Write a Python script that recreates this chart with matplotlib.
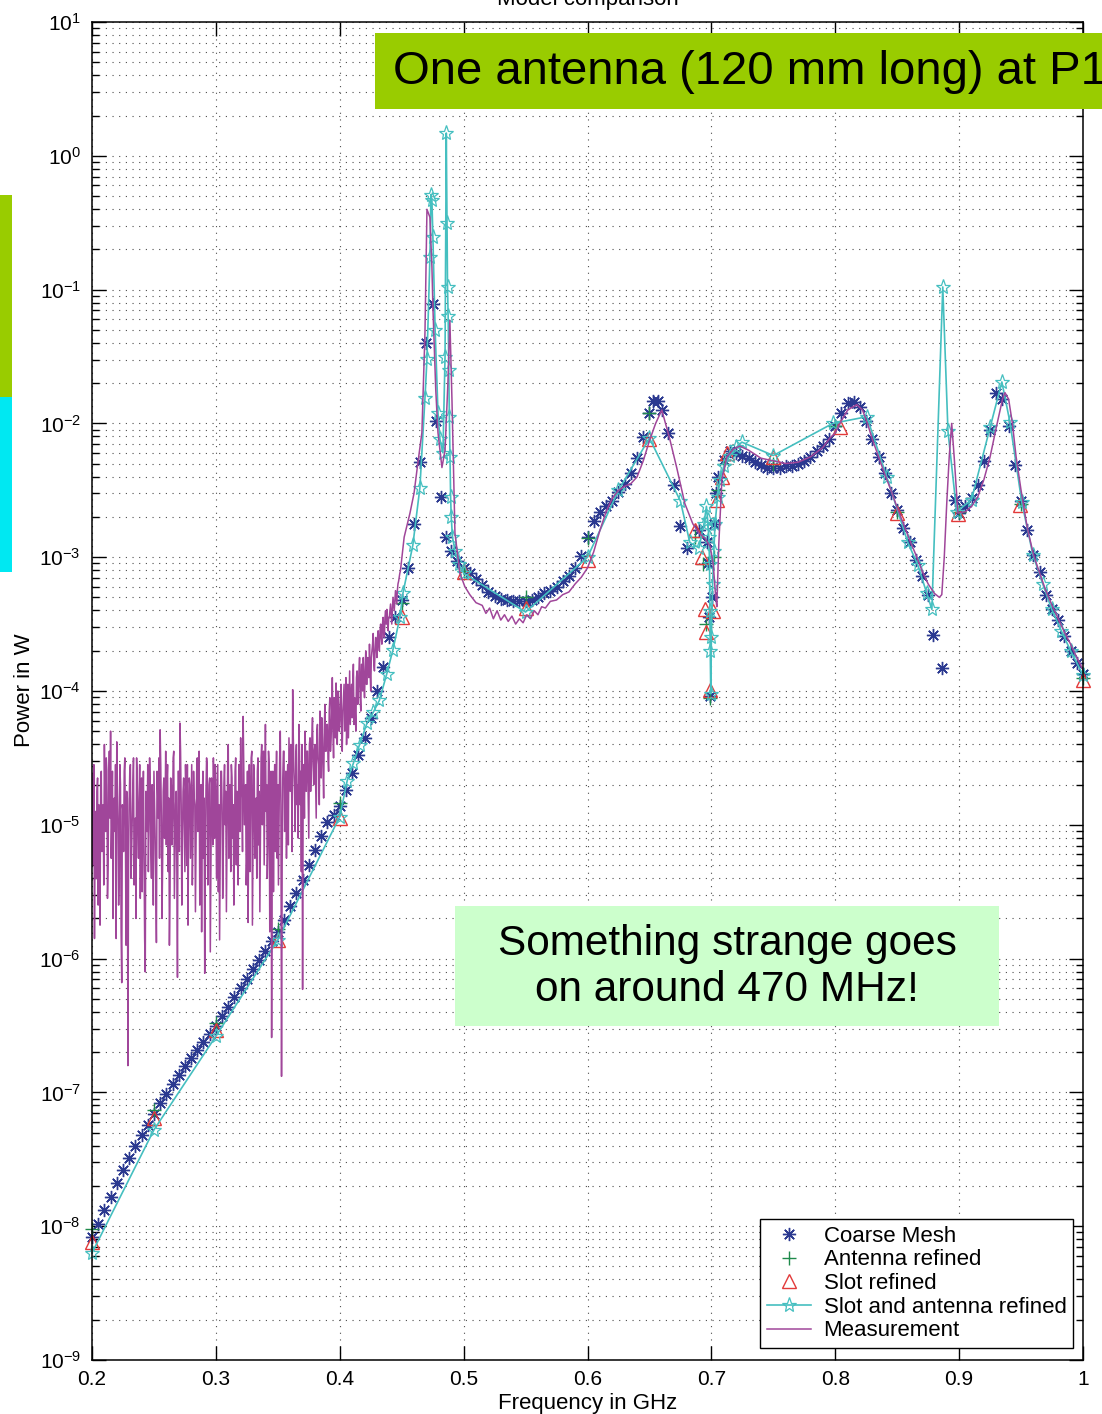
import numpy as np
import matplotlib
matplotlib.use("Agg")
import matplotlib.pyplot as plt
from matplotlib.patches import Rectangle

plt.rcParams['font.family'] = ['Liberation Sans', 'DejaVu Sans']
plt.rcParams['mathtext.fontset'] = 'custom'
plt.rcParams['mathtext.rm'] = 'Liberation Sans'

# ---- data (frequency in GHz, log10 of power in W) ----
coarse_f = [0.200, 0.205, 0.210, 0.215, 0.220, 0.225, 0.230, 0.235, 0.240, 0.245,
            0.250, 0.255, 0.260, 0.265, 0.270, 0.275, 0.280, 0.285, 0.290, 0.295,
            0.300, 0.305, 0.310, 0.315, 0.320, 0.325, 0.330, 0.335, 0.340, 0.345,
            0.350, 0.355, 0.360, 0.365, 0.370, 0.375, 0.380, 0.385, 0.390, 0.395,
            0.400, 0.405, 0.410, 0.415, 0.420, 0.425, 0.430, 0.435, 0.440, 0.445,
            0.450, 0.455, 0.460, 0.465, 0.470, 0.475, 0.478, 0.482, 0.486, 0.490,
            0.495, 0.500, 0.505, 0.510, 0.515, 0.520, 0.525, 0.530, 0.535, 0.540,
            0.545, 0.550, 0.555, 0.560, 0.565, 0.570, 0.575, 0.580, 0.585, 0.590,
            0.595, 0.600, 0.605, 0.610, 0.615, 0.620, 0.625, 0.630, 0.635, 0.640,
            0.645, 0.650, 0.653, 0.657, 0.660, 0.665, 0.670, 0.675, 0.680, 0.690,
            0.6964, 0.6975, 0.698, 0.6988, 0.7005, 0.702, 0.704, 0.705, 0.710, 0.715,
            0.720, 0.725, 0.730, 0.735, 0.740, 0.745, 0.750, 0.755, 0.760, 0.765,
            0.770, 0.775, 0.780, 0.785, 0.790, 0.795, 0.800, 0.805, 0.810, 0.815,
            0.820, 0.825, 0.830, 0.835, 0.840, 0.845, 0.850, 0.855, 0.860, 0.865,
            0.870, 0.875, 0.879, 0.886, 0.8965, 0.900, 0.905, 0.910, 0.915, 0.920,
            0.925, 0.930, 0.935, 0.940, 0.945, 0.950, 0.955, 0.960, 0.965, 0.970,
            0.975, 0.980, 0.985, 0.990, 0.995, 1.000]
coarse_lg = [-8.08, -7.98, -7.88, -7.78, -7.68, -7.58, -7.49, -7.40, -7.32, -7.24,
             -7.16, -7.08, -7.01, -6.94, -6.87, -6.80, -6.74, -6.68, -6.62, -6.56,
             -6.50, -6.43, -6.36, -6.29, -6.22, -6.15, -6.08, -6.01, -5.94, -5.87,
             -5.80, -5.71, -5.61, -5.51, -5.41, -5.30, -5.19, -5.08, -4.98, -4.93,
             -4.86, -4.74, -4.61, -4.48, -4.35, -4.20, -4.00, -3.82, -3.60, -3.45,
             -3.32, -3.08, -2.75, -2.29, -1.40, -1.11, -1.98, -2.55, -2.85, -2.95,
             -3.03, -3.08, -3.12, -3.16, -3.21, -3.26, -3.29, -3.31, -3.32, -3.33,
             -3.33, -3.33, -3.32, -3.30, -3.27, -3.25, -3.22, -3.18, -3.14, -3.08,
             -2.99, -2.85, -2.73, -2.66, -2.62, -2.58, -2.51, -2.45, -2.37, -2.26,
             -2.10, -1.92, -1.83, -1.83, -1.90, -2.07, -2.46, -2.77, -2.93, -2.80,
             -2.89, -3.04, -3.45, -4.04, -3.30, -2.75, -2.52, -2.40, -2.27, -2.21,
             -2.22, -2.24, -2.26, -2.29, -2.31, -2.33, -2.33, -2.33, -2.32, -2.32,
             -2.30, -2.28, -2.25, -2.21, -2.17, -2.12, -2.02, -1.92, -1.85, -1.84,
             -1.88, -1.98, -2.12, -2.25, -2.37, -2.52, -2.65, -2.78, -2.89, -3.02,
             -3.14, -3.28, -3.58, -3.83, -2.57, -2.67, -2.62, -2.56, -2.46, -2.28,
             -2.05, -1.77, -1.82, -2.02, -2.31, -2.58, -2.80, -2.98, -3.11, -3.28,
             -3.39, -3.47, -3.59, -3.70, -3.79, -3.87]

antenna_f = [0.200, 0.250, 0.300, 0.350, 0.400, 0.450, 0.500, 0.550, 0.600, 0.650,
             0.6867, 0.693, 0.696, 0.6988, 0.702, 0.705, 0.710, 0.750, 0.800, 0.850,
             0.900, 0.950, 1.000]
antenna_lg = [-8.02, -7.13, -6.48, -5.78, -4.84, -3.34, -3.10, -3.30, -2.86, -1.92,
              -2.85, -3.05, -3.50, -4.05, -3.00, -2.50, -2.30, -2.30, -2.02, -2.66,
              -2.66, -2.60, -3.90]

slot_f = [0.200, 0.250, 0.300, 0.350, 0.400, 0.450, 0.500, 0.550, 0.600, 0.650,
          0.6867, 0.6923, 0.6945, 0.696, 0.6988, 0.7015, 0.7044, 0.7085, 0.7125,
          0.750, 0.804, 0.850, 0.899, 0.949, 1.000]
slot_lg = [-8.12, -7.19, -6.53, -5.86, -4.95, -3.45, -3.11, -3.38, -3.02, -2.12,
           -2.80, -3.00, -3.39, -3.56, -3.99, -3.40, -2.57, -2.40, -2.22,
           -2.25, -2.03, -2.67, -2.68, -2.61, -3.92]

both_f = [0.200, 0.250, 0.300, 0.350, 0.400, 0.406, 0.411, 0.416, 0.422, 0.427,
          0.432, 0.438, 0.443, 0.4485, 0.451, 0.459, 0.4647, 0.4688, 0.4704, 0.4728,
          0.4736, 0.4744, 0.4752, 0.4770, 0.4793, 0.4809, 0.4833, 0.4850, 0.4860, 0.4866,
          0.4870, 0.4875, 0.4880, 0.4885, 0.4890, 0.4895, 0.4900, 0.4910, 0.4930, 0.4960,
          0.5000, 0.550, 0.600, 0.625, 0.650, 0.675, 0.6826, 0.690, 0.694, 0.696,
          0.697, 0.698, 0.6985, 0.6988, 0.6991, 0.6995, 0.7000, 0.7010, 0.7020, 0.7030,
          0.705, 0.707, 0.710, 0.715, 0.720, 0.7246, 0.750, 0.798, 0.8255, 0.8416,
          0.8586, 0.8667, 0.8739, 0.878, 0.8868, 0.891, 0.898, 0.910, 0.925, 0.9345,
          0.941, 0.9506, 0.9595, 0.9675, 0.9748, 0.9825, 0.990, 1.000]
both_lg = [-8.20, -7.28, -6.58, -5.86, -4.94, -4.67, -4.54, -4.40, -4.24, -4.16,
           -4.07, -3.87, -3.69, -3.45, -3.27, -2.91, -2.48, -1.81, -1.52, -0.76,
           -0.29, -0.33, -0.61, -1.30, -1.92, -2.12, -2.22, -1.50, 0.17, -0.50,
           -0.98, -1.20, -1.60, -1.95, -2.25, -2.55, -2.70, -2.85, -2.95, -3.05,
           -3.12, -3.41, -3.00, -2.50, -2.11, -2.58, -2.89, -2.93, -2.75, -2.62,
           -2.72, -2.85, -3.05, -3.40, -3.70, -4.02, -3.60, -3.20, -2.95, -2.75,
           -2.55, -2.42, -2.32, -2.24, -2.18, -2.14, -2.24, -2.00, -1.95, -2.40,
           -2.89, -3.06, -3.27, -3.39, -0.98, -2.06, -2.66, -2.57, -2.03, -1.69,
           -1.99, -2.59, -2.98, -3.20, -3.39, -3.55, -3.70, -3.88]

# measurement, noisy part: samples on whole MHz (0.200 ... 0.449 GHz)
meas_noise_lg = [
    -4.62, -5.10, -5.85, -4.90, -4.75, -5.60, -4.95, -4.70, -5.20, -4.85,
    -4.40, -5.05, -4.60, -5.30, -4.45, -4.30, -5.00, -5.70, -4.80, -4.55,
    -4.38, -4.95, -5.35, -4.70, -6.18, -4.90, -4.60, -5.10, -4.75, -6.80,
    -4.85, -4.55, -5.20, -4.70, -5.45, -4.95, -4.50, -5.05, -4.80, -5.55,
    -4.65, -4.90, -5.25, -6.10, -4.80, -4.55, -5.00, -4.70, -5.40, -4.85,
    -4.60, -5.10, -5.88, -4.75, -4.50, -4.29, -4.95, -5.30, -4.65, -4.85,
    -5.15, -4.55, -4.80, -5.50, -4.70, -4.95, -4.45, -5.20, -4.75, -6.14,
    -4.60, -4.24, -4.85, -5.10, -4.65, -5.35, -4.80, -4.55, -5.05, -4.70,
    -4.90, -5.45, -4.60, -4.85, -5.15, -4.50, -4.95, -5.60, -4.70, -4.85,
    -5.25, -6.11, -4.75, -4.55, -5.00, -4.65, -5.30, -4.80, -4.50, -5.10,
    -4.70, -4.95, -5.50, -5.86, -4.60, -4.85, -5.20, -4.55, -4.75, -5.05,
    -4.40, -4.90, -5.35, -4.65, -4.85, -5.15, -4.50, -4.75, -5.45, -4.60,
    -4.35, -4.80, -4.19, -5.00, -4.70, -5.25, -5.73, -4.55, -4.85, -4.45,
    -5.10, -4.65, -4.90, -5.40, -4.50, -4.75, -5.05, -4.40, -4.85, -5.30,
    -4.25, -4.70, -5.15, -4.55, -4.95, -6.59, -4.60, -4.80, -5.20, -4.45,
    -4.70, -5.00, -4.30, -6.88, -4.65, -4.45, -4.90, -5.25, -4.55, -4.35,
    -4.75, -4.50, -3.99, -4.60, -5.05, -4.40, -4.70, -4.25, -4.85, -5.35,
    -6.23, -4.55, -4.30, -4.75, -4.45, -5.10, -4.35, -4.60, -4.20, -4.70,
    -4.40, -4.95, -4.25, -4.55, -4.15, -4.65, -4.35, -4.80, -4.10, -4.45,
    -4.25, -4.60, -4.05, -4.35, -3.90, -4.50, -4.15, -3.94, -4.40, -4.10,
    -4.25, -3.95, -4.45, -4.05, -4.30, -3.90, -4.15, -4.35, -3.85, -4.10,
    -4.20, -3.80, -4.05, -4.30, -3.85, -4.00, -3.75, -4.15, -3.90, -3.75,
    -4.05, -3.70, -3.95, -3.80, -3.65, -4.00, -3.70, -3.57, -3.85, -3.60,
    -3.75, -3.55, -3.70, -3.50, -3.65, -3.45, -3.60, -3.40, -3.39, -3.55,
    -3.45, -3.35, -3.50, -3.30, -3.40, -3.25, -3.35, -3.20, -3.15, -3.10]
meas_noise_f = np.round(0.200 + 0.001 * np.arange(len(meas_noise_lg)), 4)

# measurement, noisy part: samples in between (0.2005 ... 0.4485 GHz)
meas_half_lg = [
    -5.30, -4.55, -5.00, -5.40, -4.65, -4.85, -5.75, -4.60, -4.95, -5.45,
    -4.85, -4.50, -5.55, -4.70, -4.95, -5.25, -4.60, -4.90, -5.05, -5.85,
    -4.70, -5.60, -4.55, -5.80, -4.85, -5.20, -4.50, -5.90, -4.80, -5.30,
    -4.60, -5.40, -4.95, -4.50, -5.15, -5.70, -4.65, -5.25, -4.55, -4.90,
    -5.50, -4.60, -5.85, -4.75, -5.05, -5.35, -4.50, -5.20, -4.70, -5.60,
    -4.85, -5.45, -4.60, -4.95, -5.25, -4.55, -5.70, -4.75, -5.10, -4.45,
    -4.70, -5.35, -5.90, -4.65, -5.15, -4.50, -5.55, -4.85, -5.35, -4.60,
    -5.20, -4.45, -5.60, -4.75, -5.00, -4.55, -5.30, -5.75, -4.65, -5.25,
    -4.55, -5.10, -4.80, -5.65, -4.60, -5.05, -4.45, -5.20, -5.80, -4.60,
    -4.80, -5.30, -4.50, -5.45, -4.70, -5.95, -4.65, -5.15, -4.85, -4.55,
    -5.40, -4.55, -4.85, -5.20, -4.60, -5.55, -4.70, -5.00, -5.65, -4.55,
    -5.25, -4.70, -4.55, -5.10, -5.60, -4.60, -5.30, -4.85, -4.55, -5.05,
    -4.70, -5.20, -4.55, -4.85, -5.45, -4.60, -5.00, -5.35, -4.50, -5.75,
    -4.55, -5.25, -4.80, -4.60, -5.15, -5.65, -4.50, -5.00, -4.45, -4.80,
    -4.90, -5.40, -4.45, -5.80, -4.60, -5.10, -5.50, -4.55, -4.75, -5.25,
    -5.45, -4.50, -4.85, -5.30, -4.45, -5.05, -4.60, -4.70, -5.15, -4.55,
    -4.40, -5.20, -4.35, -4.75, -4.50, -4.85, -5.10, -4.45, -4.60, -4.40,
    -4.60, -4.95, -4.50, -4.45, -4.80, -4.40, -4.75, -4.35, -4.55, -4.45,
    -4.70, -4.30, -4.50, -4.85, -4.35, -4.20, -4.60, -4.30, -4.45, -4.25,
    -4.50, -4.15, -4.45, -4.20, -4.30, -4.05, -4.35, -4.20, -4.00, -4.30,
    -4.05, -4.30, -4.15, -3.95, -4.20, -4.40, -3.95, -4.10, -4.25, -3.95,
    -3.95, -4.25, -4.15, -3.90, -4.10, -3.85, -4.05, -3.80, -4.00, -3.95,
    -3.85, -3.95, -3.75, -3.90, -3.85, -3.75, -3.65, -3.80, -3.70, -3.65,
    -3.60, -3.65, -3.55, -3.60, -3.50, -3.55, -3.45, -3.50, -3.48, -3.45,
    -3.40, -3.42, -3.38, -3.35, -3.32, -3.30, -3.25, -3.18, -3.12]
meas_half_f = np.round(0.2005 + 0.001 * np.arange(len(meas_half_lg)), 4)

# measurement, smooth part
meas_f = [0.452, 0.4567, 0.460, 0.463, 0.4663, 0.4688, 0.4704, 0.4728, 0.4744, 0.4752,
          0.4775, 0.4793, 0.4825, 0.4850, 0.4873, 0.4889, 0.4906, 0.4930, 0.4970, 0.5010,
          0.5050, 0.5100, 0.515, 0.518, 0.521, 0.524, 0.527, 0.530, 0.533, 0.536,
          0.539, 0.542, 0.545, 0.548, 0.551, 0.554, 0.557, 0.560, 0.563, 0.566,
          0.570, 0.575, 0.580, 0.585, 0.590, 0.595, 0.600, 0.605, 0.610, 0.615,
          0.620, 0.625, 0.630, 0.635, 0.640, 0.645, 0.650, 0.655, 0.660, 0.6665,
          0.672, 0.6786, 0.685, 0.690, 0.695, 0.699, 0.7015, 0.7035, 0.7044, 0.706,
          0.7085, 0.7125, 0.718, 0.723, 0.730, 0.740, 0.750, 0.760, 0.770, 0.780,
          0.790, 0.7956, 0.800, 0.805, 0.810, 0.8174, 0.822, 0.826, 0.830, 0.835,
          0.840, 0.845, 0.850, 0.855, 0.860, 0.865, 0.870, 0.875, 0.880, 0.884,
          0.886, 0.888, 0.890, 0.892, 0.894, 0.896, 0.899, 0.905, 0.910, 0.915,
          0.920, 0.925, 0.930, 0.935, 0.937, 0.940, 0.943, 0.946, 0.950, 0.955,
          0.960, 0.965, 0.970, 0.975, 0.980, 0.985, 0.990, 0.995, 1.000]
meas_lg = [-2.85, -2.67, -2.52, -2.30, -2.07, -1.32, -0.40, -0.46, -0.83, -1.13,
           -1.75, -2.07, -2.33, -2.20, -1.70, -1.23, -1.83, -2.82, -3.12, -3.22,
           -3.28, -3.34, -3.36, -3.42, -3.38, -3.46, -3.40, -3.47, -3.43, -3.48,
           -3.44, -3.50, -3.46, -3.49, -3.43, -3.46, -3.40, -3.43, -3.37, -3.38,
           -3.33, -3.32, -3.28, -3.26, -3.20, -3.15, -3.08, -2.96, -2.80, -2.66,
           -2.56, -2.50, -2.47, -2.45, -2.40, -2.28, -2.13, -2.00, -1.90, -2.12,
           -2.33, -2.60, -2.75, -2.82, -2.86, -2.92, -3.05, -3.30, -3.37, -2.90,
           -2.42, -2.25, -2.19, -2.17, -2.20, -2.26, -2.28, -2.30, -2.29, -2.25,
           -2.18, -2.11, -2.07, -1.98, -1.90, -1.86, -1.90, -2.00, -2.12, -2.25,
           -2.38, -2.50, -2.63, -2.75, -2.87, -2.98, -3.10, -3.20, -3.27, -3.30,
           -3.28, -3.00, -2.60, -2.25, -2.00, -2.25, -2.67, -2.66, -2.62, -2.55,
           -2.42, -2.25, -2.03, -1.82, -1.77, -1.82, -2.00, -2.25, -2.50, -2.78,
           -2.98, -3.12, -3.25, -3.36, -3.46, -3.56, -3.65, -3.75, -3.84]

all_meas_f = np.concatenate([meas_noise_f, meas_half_f, meas_f])
all_meas_lg = np.concatenate([meas_noise_lg, meas_half_lg, meas_lg])
order = np.argsort(all_meas_f, kind='stable')
all_meas_f = all_meas_f[order]
all_meas_lg = all_meas_lg[order]

# ---- figure ----
fig = plt.figure(figsize=(11.02, 14.14), dpi=100)
ax = fig.add_axes([92 / 1102, 1 - 1360 / 1414, 991 / 1102, 1338 / 1414])

ax.plot(coarse_f, np.power(10.0, coarse_lg), ls='none', marker=(8, 2, 0), ms=9.5,
        mew=1.0, color='#2b3990', label='Coarse Mesh', clip_on=False)
ax.plot(antenna_f, np.power(10.0, antenna_lg), ls='none', marker='+', ms=9.5,
        mew=1.0, color='#1f8a4c', label='Antenna refined', clip_on=False)
ax.plot(slot_f, np.power(10.0, slot_lg), ls='none', marker='^', ms=9.5, mfc='none',
        mew=1.0, color='#e23a3a', label='Slot refined', clip_on=False)
ax.plot(both_f, np.power(10.0, both_lg), '-', marker='*', ms=11, mfc='none',
        mew=0.9, lw=1.2, color='#45bfc0', label='Slot and antenna refined', clip_on=False)
ax.plot(all_meas_f, np.power(10.0, all_meas_lg), '-', lw=1.1, color='#a0469a',
        label='Measurement')

ax.set_yscale('log')
ax.set_xlim(0.2, 1.0)
ax.set_ylim(1e-9, 1e1)
ax.set_xticks([0.2, 0.3, 0.4, 0.5, 0.6, 0.7, 0.8, 0.9, 1.0])
ax.set_xticklabels(['0.2', '0.3', '0.4', '0.5', '0.6', '0.7', '0.8', '0.9', '1'])
ax.set_yticks([10.0 ** k for k in range(-9, 2)])
ax.yaxis.set_minor_locator(matplotlib.ticker.LogLocator(base=10, subs=np.arange(2, 10), numticks=20))
ax.yaxis.set_minor_formatter(matplotlib.ticker.NullFormatter())

ax.tick_params(which='both', direction='in', top=True, right=True, labelsize=15)
ax.tick_params(which='major', length=10, width=1.0)
ax.tick_params(which='minor', length=5, width=1.0)
ax.tick_params(axis='x', pad=7)
ax.tick_params(axis='y', pad=8)
for s in ax.spines.values():
    s.set_linewidth(1.1)

ax.set_axisbelow(True)
ax.grid(which='major', axis='both', color='0.3', lw=0.8, ls=(0, (1, 5)))
ax.grid(which='minor', axis='y', color='0.3', lw=0.8, ls=(0, (1, 5)))

leg = ax.legend(loc='lower right', bbox_to_anchor=(0.99, 0.009), fontsize=16,
                frameon=True, fancybox=False, framealpha=1, edgecolor='black',
                borderaxespad=0, borderpad=0.3, labelspacing=0.12,
                handlelength=2.0, handletextpad=0.55)
leg.get_frame().set_linewidth(1.0)

# axis labels and (cut off) title
fig.text(588 / 1102, 1 - 1403 / 1414, 'Frequency in GHz', ha='center', va='center', fontsize=16)
fig.text(25 / 1102, 1 - 690 / 1414, 'Power in W', ha='center', va='center',
         rotation=90, fontsize=16)
fig.text(588 / 1102, 1 - 5 / 1414, 'Model comparison', ha='center', va='baseline', fontsize=16)

# slide decorations
fig.add_artist(Rectangle((0, 1 - 397 / 1414), 12 / 1102, 202 / 1414,
                         transform=fig.transFigure, color='#99cc00', lw=0))
fig.add_artist(Rectangle((0, 1 - 572 / 1414), 12 / 1102, 175 / 1414,
                         transform=fig.transFigure, color='#00e8f2', lw=0))
fig.add_artist(Rectangle((375 / 1102, 1 - 109 / 1414), 0.7, 76 / 1414,
                         transform=fig.transFigure, color='#99cc00', lw=0))
fig.text(393 / 1102, 1 - 72 / 1414, 'One antenna (120 mm long) at P1',
         ha='left', va='center', fontsize=34, zorder=5)
fig.add_artist(Rectangle((455 / 1102, 1 - 1026 / 1414), 544 / 1102, 120 / 1414,
                         transform=fig.transFigure, color='#ccffcc', lw=0))
fig.text(727 / 1102, 1 - 967 / 1414, 'Something strange goes\non around 470 MHz!',
         ha='center', va='center', fontsize=30.5, linespacing=1.2, zorder=5)

fig.savefig('out.png', dpi=100)
